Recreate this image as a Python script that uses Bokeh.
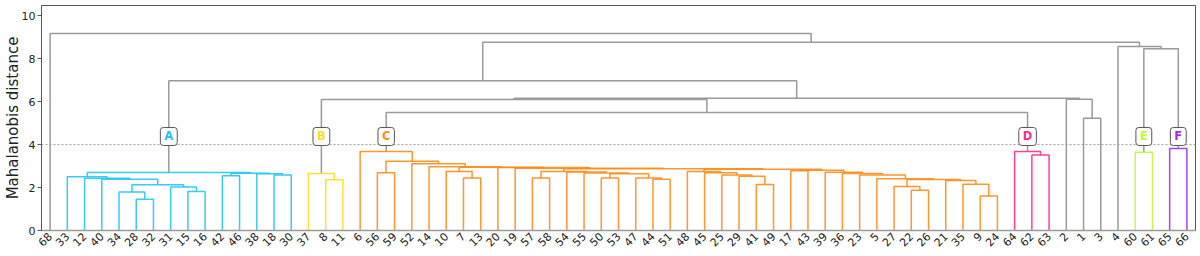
from math import pi
from bokeh.plotting import figure
from bokeh.models import FixedTicker, Span, Label, Range1d
from bokeh.embed import file_html
from bokeh.resources import INLINE

# ---------------- data ----------------
leaf_labels = [68, 33, 12, 40, 34, 28, 32, 31, 15, 16, 42, 46, 38, 18, 30,
               37, 8, 11,
               6, 56, 59, 52, 14, 10, 7, 13, 20, 19, 57, 58, 54, 55, 50, 53,
               47, 44, 51, 48, 45, 25, 29, 41, 49, 17, 43, 39, 36, 23, 5, 27,
               22, 26, 21, 35, 9, 24,
               64, 62, 63, 2, 1, 3, 4, 60, 61, 65, 66]

# merges: (node, left, right, height)
links_A = [("a1", 28, 32, 1.46), ("a2", 34, "a1", 1.79), ("a3", 15, 16, 1.82),
           ("a4", 31, "a3", 2.03), ("a5", "a2", "a4", 2.13), ("a6", 40, "a5", 2.39),
           ("a7", 12, "a6", 2.43), ("a8", 33, "a7", 2.50), ("a9", 42, 46, 2.55),
           ("a10", 18, 30, 2.58), ("a11", 38, "a10", 2.64), ("a12", "a9", "a11", 2.67),
           ("A", "a8", "a12", 2.70)]
links_B = [("b1", 8, 11, 2.36), ("B", 37, "b1", 2.65)]
links_C = [("p1", 7, 13, 2.45), ("p2", 10, "p1", 2.75), ("q", 56, 59, 2.69),
           ("n1", 57, 58, 2.44), ("n2", 50, 53, 2.44), ("n3", 44, 51, 2.39),
           ("n4", 47, "n3", 2.45), ("n5", "n2", "n4", 2.64), ("n6", 55, "n5", 2.68),
           ("n7", 54, "n6", 2.72), ("n8", "n1", "n7", 2.75),
           ("m1", 41, 49, 2.14), ("m2", 29, "m1", 2.53), ("m3", 25, "m2", 2.59),
           ("m4", 45, "m3", 2.69), ("m5", 48, "m4", 2.75),
           ("r1", 9, 24, 1.61), ("r2", 35, "r1", 2.16), ("r3", 21, "r2", 2.33),
           ("l1", 22, 26, 1.88), ("l2", 27, "l1", 2.05), ("r4", "l2", "r3", 2.37),
           ("r5", 5, "r4", 2.41), ("r6", 23, "r5", 2.58), ("r7", 36, "r6", 2.66),
           ("r8", 39, "r7", 2.71), ("k", 17, 43, 2.78), ("r9", "k", "r8", 2.81),
           ("s", "m5", "r9", 2.85), ("t", "n8", "s", 2.88), ("u", 19, "t", 2.90),
           ("v", 20, "u", 2.93), ("w", "p2", "v", 2.95), ("z", 14, "w", 2.97),
           ("y", 52, "z", 3.11), ("x", "q", "y", 3.23), ("C", 6, "x", 3.68)]
links_D = [("d1", 62, 63, 3.52), ("D", 64, "d1", 3.68)]
links_E = [("E", 60, 61, 3.65)]
links_F = [("F", 65, 66, 3.82)]
links_upper = [("g1", 1, 3, 5.23), ("g2", 2, "g1", 6.11), ("cd", "C", "D", 5.50),
               ("bcd", "B", "cd", 6.10), ("h1", "bcd", "g2", 6.16),
               ("h2", "A", "h1", 6.97), ("ef", "E", "F", 8.46),
               ("h3", 4, "ef", 8.57), ("h4", "h2", "h3", 8.77),
               ("root", 68, "h4", 9.18)]

cluster_names = ["A", "B", "C", "D", "E", "F"]
cluster_colors = ["#22c5f5", "#ffdd22", "#ff8c1a", "#ff2e8a", "#c3f73a", "#a030f0"]
cluster_links = [links_A, links_B, links_C, links_D, links_E, links_F]
threshold = 4.0
label_height = 4.38
y_ticks = [0, 2, 4, 6, 8, 10]
upper_color = "#9a9a9a"

# ---------------- layout of dendrogram ----------------
pos = {lbl: (5 + 10 * i, 0.0) for i, lbl in enumerate(leaf_labels)}
xs, ys, cols = [], [], []


def add_links(links, color):
    for name, left, right, h in links:
        xl, yl = pos[left]
        xr, yr = pos[right]
        pos[name] = ((xl + xr) / 2.0, h)
        xs.append([xl, xl, xr, xr])
        ys.append([yl, h, h, yr])
        cols.append(color)


for links, color in zip(cluster_links, cluster_colors):
    add_links(links, color)
gx0 = len(xs)
add_links(links_upper, upper_color)

FONT = "DejaVu Sans"
n = len(leaf_labels)
p = figure(width=1198, height=256, x_range=Range1d(0, 10 * n),
           y_range=Range1d(0, 10.48), output_backend="svg",
           toolbar_location=None, min_border_left=40, min_border_right=3,
           min_border_top=5, min_border_bottom=26)
p.grid.visible = False
p.outline_line_color = "#555555"
p.outline_line_width = 1

# gray links first, then colored ones
p.multi_line(xs[gx0:], ys[gx0:], line_color=cols[gx0:], line_width=1.5)
p.multi_line(xs[:gx0], ys[:gx0], line_color=cols[:gx0], line_width=1.5, line_alpha=0.9)

p.add_layout(Span(location=threshold, dimension="width", line_color="#9a9a9a",
                  line_dash="2 2", line_width=1))

for name, color in zip(cluster_names, cluster_colors):
    cx = pos[name][0]
    p.add_layout(Label(x=cx, y=label_height, text=name, text_color=color,
                       text_font=FONT, text_font_size="11.5px", text_font_style="bold",
                       text_align="center", text_baseline="middle",
                       background_fill_color="white", border_line_color="#555555",
                       border_line_width=1, padding=(4, 2), border_radius=3))

# axes
p.xaxis.ticker = FixedTicker(ticks=[5 + 10 * i for i in range(n)])
p.xaxis.major_label_overrides = {5 + 10 * i: str(l) for i, l in enumerate(leaf_labels)}
p.xaxis.major_label_orientation = pi / 4
p.xaxis.major_tick_out = 0
p.xaxis.major_tick_in = 0
p.xaxis.minor_tick_out = 0
p.xaxis.minor_tick_in = 0
p.xaxis.major_label_standoff = 4
p.xaxis.axis_line_color = "#9a9a9a"
p.xaxis.axis_line_width = 1.5

p.yaxis.ticker = FixedTicker(ticks=y_ticks)
p.yaxis.major_tick_out = 4
p.yaxis.major_tick_in = 0
p.yaxis.minor_tick_out = 0
p.yaxis.minor_tick_in = 0
p.yaxis.major_label_standoff = 2
p.yaxis.axis_line_color = "#555555"
p.yaxis.major_tick_line_color = "#555555"
p.yaxis.axis_label = "Mahalanobis distance"
p.yaxis.axis_label_text_font = FONT
p.yaxis.axis_label_text_font_size = "15px"
p.yaxis.axis_label_text_font_style = "normal"
p.yaxis.axis_label_text_color = "#222222"
p.yaxis.axis_label_standoff = -3

for ax in (p.xaxis[0], p.yaxis[0]):
    ax.major_label_text_font = FONT
    ax.major_label_text_font_size = "11px"
    ax.major_label_text_color = "#222222"

open("out.html", "w").write(file_html(p, INLINE))
